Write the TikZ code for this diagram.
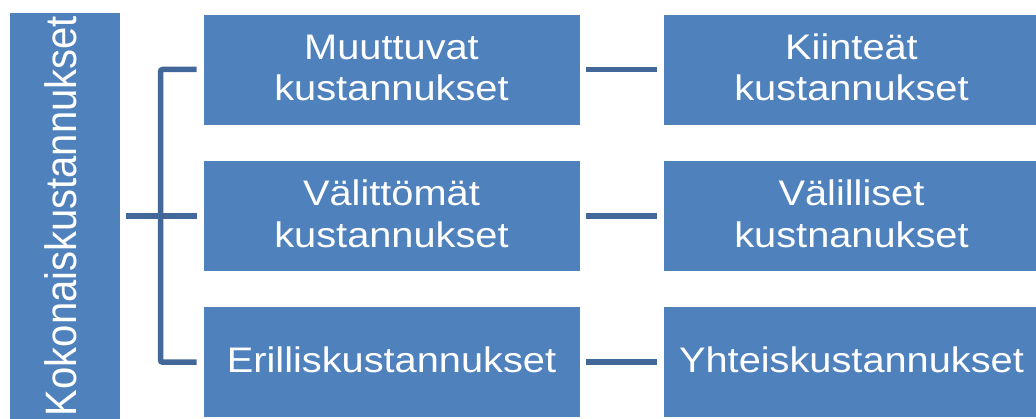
\documentclass[tikz,border=0pt]{standalone}
\usepackage{fontspec}
\setmainfont{Liberation Sans}
\newfontfamily\boxfont[FakeStretch=1.12]{Liberation Sans}
\newfontfamily\vfont{Liberation Sans}
\definecolor{boxblue}{RGB}{79,129,189}
\definecolor{connblue}{RGB}{65,104,152}
\tikzset{
  box/.style={fill=boxblue, draw=white, line width=0.8pt, minimum width=377pt, minimum height=111pt,
    inner sep=0pt, text=white, align=center, text height=21pt, text depth=0pt,
    font={\boxfont\fontsize{35.5}{41.5}\selectfont}},
  twoline/.style={box, text height=62.5pt},
  conn/.style={draw=connblue, line width=5.5pt, shorten <=6pt, shorten >=6pt}
}
\begin{document}
\begin{tikzpicture}[x=1pt,y=-1pt]
\useasboundingbox (0,0) rectangle (1036,419);
\node[fill=boxblue, draw=white, line width=0.8pt, minimum width=111pt, minimum height=408pt, inner sep=0pt, text=white]
  (tot) at (64.5,216) {\makebox[39pt][l]{\rotatebox{90}{\scalebox{1}[1.1]{\vfont\fontsize{40}{48}\selectfont Kokonaiskustannukset}}}};
\node[twoline] (a1) at (391.5,69.5) {Muuttuvat\\kustannukset};
\node[twoline] (a2) at (391.5,216) {Välittömät\\kustannukset};
\node[box] (a3) at (391.5,362.2) {Erilliskustannukset};
\node[twoline] (b1) at (851.5,69.5) {Kiinteät\\kustannukset};
\node[twoline] (b2) at (851.5,216) {Välilliset\\kustnanukset};
\node[box] (b3) at (851.5,362.2) {Yhteiskustannukset};
\draw[conn] (tot.east |- a2.west) -- (a2.west);
\draw[conn, rounded corners=2pt] (a1.west) -- ++(-42,0) |- (a3.west);
\draw[conn] (a1.east) -- (b1.west);
\draw[conn] (a2.east) -- (b2.west);
\draw[conn] (a3.east) -- (b3.west);
\end{tikzpicture}
\end{document}
